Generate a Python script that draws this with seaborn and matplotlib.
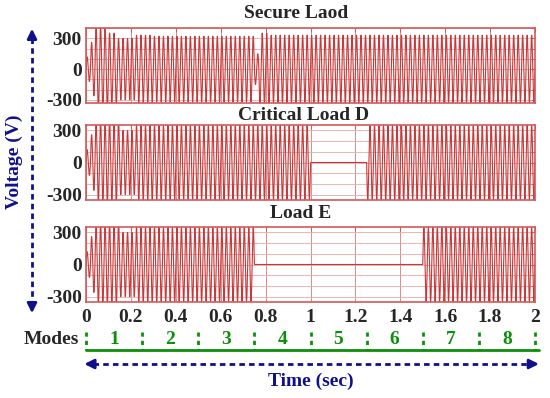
import numpy as np
import pandas as pd
import seaborn as sns
import matplotlib
matplotlib.use('Agg')
from matplotlib import pyplot as plt
from matplotlib.ticker import MultipleLocator

sns.set_style('white')
plt.rcParams['font.family'] = ['Liberation Serif', 'DejaVu Serif']
plt.rcParams['font.weight'] = 'bold'

# waveform: 50 Hz supply, piecewise amplitude (V)
freq = 50
fs = 5000
t_end = 2.0
secure_start = [0.0, 0.02, 0.04, 0.10, 0.14, 0.22, 0.30, 0.75, 0.77, 0.82]
secure_amp = [120, 260, 420, 350, 300, 330, 320, 150, 350, 330]
critical_start = [0.0, 0.02, 0.04, 0.15, 0.22, 1.0, 1.25]
critical_amp = [120, 260, 380, 300, 345, 0, 345]
load_e_start = [0.0, 0.02, 0.04, 0.15, 0.22, 0.75, 1.5]
load_e_amp = [120, 260, 380, 300, 345, 0, 345]

titles = ['Secure Laod', 'Critical Load D', 'Load E']
ylims = [(-330, 400), (-350, 350), (-350, 350)]
yticks = [-300, 0, 300]
xticks = [0, 0.2, 0.4, 0.6, 0.8, 1, 1.2, 1.4, 1.6, 1.8, 2]
xtick_labels = ['0', '0.2', '0.4', '0.6', '0.8', '1', '1.2', '1.4', '1.6', '1.8', '2']
mode_bounds = [0, 0.25, 0.5, 0.75, 1.0, 1.25, 1.5, 1.75, 2.0]
mode_labels = ['1', '2', '3', '4', '5', '6', '7', '8']

W, H = 550, 398
wave_c = '#c83838'
grid_c = '#eaa8a8'
frame_c = '#d25a5a'
blue = '#10108a'
green = '#0a900a'


def rect(x0, y0, x1, y1):
    return [x0 / W, 1 - y1 / H, (x1 - x0) / W, (y1 - y0) / H]


def trace(starts, amps):
    t = np.arange(0, t_end + 1 / fs / 2, 1 / fs)
    idx = np.searchsorted(starts, t, side='right') - 1
    a = np.array(amps)[idx]
    return pd.DataFrame({'Time': t, 'Voltage': a * np.sin(2 * np.pi * freq * t)})


fig = plt.figure(figsize=(W / 100, H / 100), dpi=100)
panels = [(86, 28, 535, 103), (86, 125, 535, 200), (86, 227, 535, 302)]
title_x = [296, 304, 301]
title_y = [14, 115, 214]
data = [trace(secure_start, secure_amp), trace(critical_start, critical_amp),
        trace(load_e_start, load_e_amp)]

for i in range(3):
    ax = fig.add_axes(rect(*panels[i]))
    sns.lineplot(data=data[i], x='Time', y='Voltage', ax=ax, color=wave_c,
                 lw=0.8, estimator=None, sort=False)
    ax.set_xlim(0, 2)
    ax.set_ylim(*ylims[i])
    ax.set_xlabel('')
    ax.set_ylabel('')
    ax.set_yticks(yticks)
    ax.set_yticklabels([str(v) for v in yticks], fontsize=14, fontweight='bold')
    ax.yaxis.set_minor_locator(MultipleLocator(100))
    ax.set_xticks(xticks)
    if i == 2:
        ax.set_xticklabels(xtick_labels, fontsize=14, fontweight='bold')
    else:
        ax.set_xticklabels([])
    ax.grid(which='both', axis='y', color=grid_c, lw=0.6)
    ax.grid(which='major', axis='x', color='#e08a8a', lw=0.7)
    ax.set_axisbelow(True)
    ax.tick_params(which='both', direction='in', color=frame_c, top=True,
                   right=True, length=3, pad=3)
    ax.tick_params(axis='x', pad=5)
    for s in ax.spines.values():
        s.set_color(frame_c)
        s.set_linewidth(1.2)
    fig.text(title_x[i] / W, 1 - title_y[i] / H, titles[i], ha='center',
             va='center', fontsize=14, fontweight='bold')

# modes row and time arrow
mode_ax = fig.add_axes(rect(86, 305, 535, 398))
mode_ax.set_xlim(0, 2)
mode_ax.set_ylim(398, 305)
mode_ax.axis('off')
mode_ax.plot([0, 2.02], [350, 350], color=green, lw=2, clip_on=False)
for b in mode_bounds:
    bx = min(b, 2.015)
    mode_ax.plot([bx, bx], [332, 350], color=green, lw=2, ls=(0, (1.5, 1.5)),
                 clip_on=False)
for k, lab in enumerate(mode_labels):
    cx = (mode_bounds[k] + mode_bounds[k + 1]) / 2
    mode_ax.text(cx, 340, lab, color=green, ha='center', va='center',
                 fontsize=14, fontweight='bold')
mode_ax.text(-0.03, 340, 'Modes', ha='right', va='center', fontsize=14,
             fontweight='bold')
mode_ax.plot([0.03, 1.99], [364, 364], color=blue, lw=2, ls=(0, (2, 1.5)),
             clip_on=False)
mode_ax.annotate('', xy=(-0.02, 364), xytext=(0.05, 364), annotation_clip=False,
                 arrowprops=dict(arrowstyle='-|>', color=blue, lw=2,
                                 mutation_scale=14))
mode_ax.annotate('', xy=(2.03, 364), xytext=(1.96, 364), annotation_clip=False,
                 arrowprops=dict(arrowstyle='-|>', color=blue, lw=2,
                                 mutation_scale=14))
mode_ax.text(1.0, 381, 'Time (sec)', color=blue, ha='center', va='center',
             fontsize=14, fontweight='bold')

# voltage arrow
over = fig.add_axes([0, 0, 1, 1])
over.set_xlim(0, W)
over.set_ylim(H, 0)
over.axis('off')
over.patch.set_alpha(0)
over.plot([32, 32], [38, 303], color=blue, lw=2, ls=(0, (2, 1.5)))
over.annotate('', xy=(32, 26), xytext=(32, 42),
              arrowprops=dict(arrowstyle='-|>', color=blue, lw=2, mutation_scale=14))
over.annotate('', xy=(32, 316), xytext=(32, 300),
              arrowprops=dict(arrowstyle='-|>', color=blue, lw=2, mutation_scale=14))
over.text(14, 162, 'Voltage (V)', color=blue, rotation=90, ha='center',
          va='center', fontsize=14, fontweight='bold')

fig.savefig('out.png', dpi=100)
